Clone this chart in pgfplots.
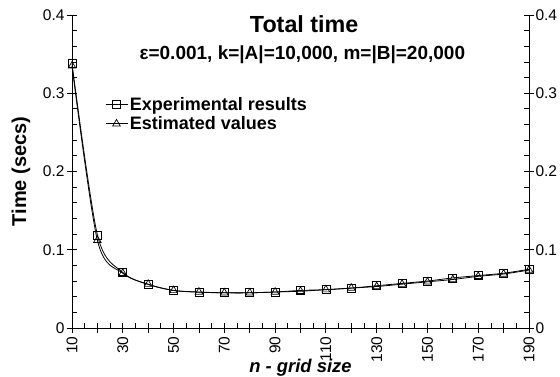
\documentclass[border=0pt]{standalone}
\usepackage{fontspec}
\setmainfont{Liberation Sans}
\usepackage{pgfplots}
\usepackage{pgfplotstable}
\pgfplotsset{compat=1.18}

\pgfplotstableread{
n t
10 0.338
20 0.119
30 0.071
40 0.0556
50 0.048
60 0.0457
70 0.045
80 0.045
90 0.046
100 0.048
110 0.049
120 0.051
130 0.054
140 0.057
150 0.060
160 0.064
170 0.067
180 0.070
190 0.075
}\exper

\pgfplotstableread{
n t
10 0.335
20 0.112
30 0.070
40 0.056
50 0.048
60 0.046
70 0.045
80 0.045
90 0.046
100 0.047
110 0.049
120 0.051
130 0.053
140 0.056
150 0.059
160 0.062
170 0.066
180 0.069
190 0.074
}\estim

\begin{document}
\begin{tikzpicture}
\useasboundingbox (-72pt,-49pt) rectangle (488pt,328pt);
\begin{axis}[
  scale only axis, width=457pt, height=313pt,
  xmin=10, xmax=190, ymin=0, ymax=0.4,
  axis x line*=bottom, axis y line*=left,
  axis line style={line width=0.8pt, -},
  clip=false,
  xtick={10,20,...,190},
  xticklabels={10,{},30,{},50,{},70,{},90,{},110,{},130,{},150,{},170,{},190},
  minor x tick num=1,
  ytick={0,0.1,0.2,0.3,0.4},
  yticklabels={0,0.1,0.2,0.3,0.4},
  minor y tick num=4,
  tick align=inside,
  major tick length=10pt, minor tick length=5pt,
  every major y tick/.append style={xshift=-5pt},
  every major x tick/.append style={yshift=-5pt},
  tick style={black, line width=0.8pt},
  /pgf/number format/assume math mode=true,
  ticklabel style={font=\fontsize{15.5}{18}\selectfont},
  xticklabel style={rotate=90, anchor=east},
  xticklabel shift=5pt,
  yticklabel shift=4pt,
  xlabel={\bfseries\itshape n - grid size},
  xlabel style={font=\fontsize{18.4}{22}\selectfont, at={(axis description cs:0.5,0)}, anchor=base, yshift=-45pt},
  ylabel={\bfseries Time (secs)},
  ylabel style={font=\fontsize{20}{24}\selectfont, at={(axis description cs:0,0.5)}, anchor=center, yshift=51pt},
  legend style={draw=none, fill=none, at={(axis description cs:0.072,0.745)}, anchor=north west,
    font=\bfseries\fontsize{18}{21.6}\selectfont, inner sep=0pt, row sep=1pt},
  legend cell align=left,
  legend image code/.code={\draw[mark repeat=2,mark phase=2,#1] plot coordinates {(0pt,0pt) (11pt,0pt) (22pt,0pt)};},
]
\addplot[black, line width=0.8pt, smooth, mark=square, mark size=4pt, mark options={solid, fill=none, line width=0.7pt}] table[x=n,y=t] {\exper};
\addlegendentry{Experimental results}
\addplot[black, line width=0.8pt, smooth, mark=triangle, mark size=4.4pt, mark options={solid, fill=none, line width=0.7pt}] table[x=n,y=t] {\estim};
\addlegendentry{Estimated values}
\node[font=\bfseries\fontsize{23.3}{27}\selectfont, anchor=base] at (axis description cs:0.508,0.9435) {Total time};
\node[font=\bfseries\fontsize{19}{22}\selectfont, anchor=base] at (axis description cs:0.504,0.859) {ε=0.001, k=|A|=10,000, m=|B|=20,000};
\end{axis}
\begin{axis}[
  scale only axis, width=457pt, height=313pt,
  xmin=10, xmax=190, ymin=0, ymax=0.4,
  axis x line=none, axis y line*=right,
  axis line style={line width=0.8pt, -},
  ytick={0,0.1,0.2,0.3,0.4},
  yticklabels={0,0.1,0.2,0.3,0.4},
  minor y tick num=4,
  tick align=inside,
  major tick length=10pt, minor tick length=5pt,
  every major y tick/.append style={xshift=5pt},
  tick style={black, line width=0.8pt},
  /pgf/number format/assume math mode=true,
  ticklabel style={font=\fontsize{15.5}{18}\selectfont},
  yticklabel shift=3pt,
]
\end{axis}
\end{tikzpicture}
\end{document}
